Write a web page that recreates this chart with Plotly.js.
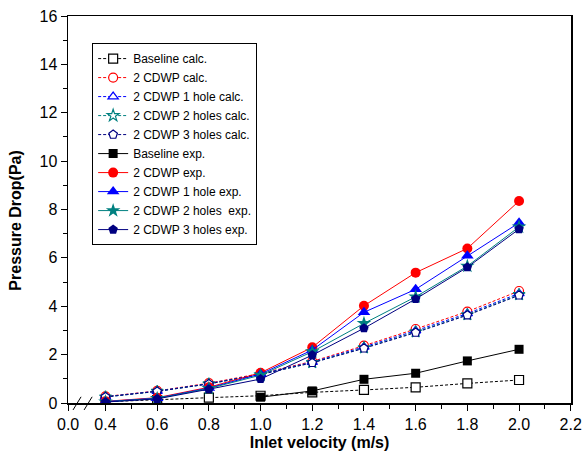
<!DOCTYPE html>
<html>
<head>
<meta charset="utf-8">
<script src="https://cdn.plot.ly/plotly-3.0.1.min.js"></script>
<style>html,body{margin:0;padding:0;background:#fff}#chart{width:586px;height:459px}</style>
</head>
<body>
<div id="chart"></div>
<script>
// Data
const velocity = [0.4, 0.6, 0.8, 1.0, 1.2, 1.4, 1.6, 1.8, 2.0];
const velocityExpBaseline = [1.0, 1.2, 1.4, 1.6, 1.8, 2.0];

const baselineCalc   = [0.05, 0.12, 0.22, 0.30, 0.44, 0.54, 0.65, 0.81, 0.95];
const cdwpCalc       = [0.27, 0.50, 0.82, 1.22, 1.72, 2.37, 3.06, 3.78, 4.63];
const hole1Calc      = [0.26, 0.49, 0.80, 1.20, 1.69, 2.32, 2.99, 3.70, 4.53];
const holes2Calc     = [0.25, 0.48, 0.79, 1.18, 1.67, 2.28, 2.94, 3.65, 4.48];
const holes3Calc     = [0.25, 0.48, 0.79, 1.18, 1.66, 2.26, 2.91, 3.63, 4.45];

const baselineExp    = [0.24, 0.50, 0.98, 1.23, 1.74, 2.22];
const cdwpExp        = [0.07, 0.22, 0.65, 1.25, 2.30, 4.02, 5.39, 6.39, 8.35];
const hole1Exp       = [0.06, 0.20, 0.62, 1.20, 2.19, 3.75, 4.70, 6.09, 7.45];
const holes2Exp      = [0.05, 0.19, 0.60, 1.15, 2.12, 3.29, 4.39, 5.66, 7.28];
const holes3Exp      = [0.04, 0.17, 0.57, 0.99, 1.98, 3.09, 4.30, 5.61, 7.19];

const xTickVals = [0.2555, 0.4, 0.6, 0.8, 1.0, 1.2, 1.4, 1.6, 1.8, 2.0, 2.2];
const xTickText = ['0.0', '0.4', '0.6', '0.8', '1.0', '1.2', '1.4', '1.6', '1.8', '2.0', '2.2'];
const xMinorVals = [0.5, 0.7, 0.9, 1.1, 1.3, 1.5, 1.7, 1.9, 2.1];

function calc(name, x, y, color, symbol) {
  return {x: x, y: y, name: name, type: 'scatter', mode: 'lines+markers',
    line: {color: color, width: 1, dash: '3px,2px'},
    marker: {symbol: symbol, size: 9, color: '#ffffff', line: {color: color, width: 1.2}}};
}
function exp(name, x, y, color, symbol, size) {
  return {x: x, y: y, name: name, type: 'scatter', mode: 'lines+markers',
    line: {color: color, width: 1},
    marker: {symbol: symbol, size: size || 9, color: color, line: {color: color, width: 0}}};
}

const traces = [
  calc('Baseline calc.', velocity, baselineCalc, '#000000', 'square'),
  calc('2 CDWP calc.', velocity, cdwpCalc, '#ff0000', 'circle'),
  calc('2 CDWP 1 hole calc.', velocity, hole1Calc, '#0000ff', 'triangle-up'),
  calc('2 CDWP 2 holes calc.', velocity, holes2Calc, '#008080', 'star'),
  calc('2 CDWP 3 holes calc.', velocity, holes3Calc, '#000080', 'pentagon'),
  exp('Baseline exp.', velocityExpBaseline, baselineExp, '#000000', 'square', 9),
  exp('2 CDWP exp.', velocity, cdwpExp, '#ff0000', 'circle', 10),
  exp('2 CDWP 1 hole exp.', velocity, hole1Exp, '#0000ff', 'triangle-up', 11),
  exp('2 CDWP 2 holes  exp.', velocity, holes2Exp, '#008080', 'star', 11),
  exp('2 CDWP 3 holes exp.', velocity, holes3Exp, '#000080', 'pentagon', 10)
];

const font = 'Liberation Sans, Arial, sans-serif';
const layout = {
  width: 586, height: 459,
  margin: {l: 68, r: 15, t: 16, b: 56},
  paper_bgcolor: '#fff', plot_bgcolor: '#fff',
  font: {family: font, color: '#000'},
  showlegend: true,
  legend: {x: 0.048, y: 0.93, xanchor: 'left', yanchor: 'top',
    bordercolor: '#000', borderwidth: 1, bgcolor: '#fff',
    font: {family: font, size: 12, color: '#000'}},
  xaxis: {range: [0.255, 2.201], tickmode: 'array', tickvals: xTickVals, ticktext: xTickText,
    ticks: 'outside', ticklen: 6, tickwidth: 1, tickcolor: '#000',
    showline: true, linecolor: '#000', linewidth: 1.5, mirror: true,
    showgrid: false, zeroline: false,
    tickfont: {family: font, size: 16, color: '#000'},
    minor: {tickmode: 'array', tickvals: xMinorVals, ticks: 'outside', ticklen: 4, tickcolor: '#000', showgrid: false},
    title: {text: '<b>Inlet velocity (m/s)</b>', font: {family: font, size: 16, color: '#000'}, standoff: 5}},
  yaxis: {range: [0, 16], tickmode: 'linear', tick0: 0, dtick: 2,
    ticks: 'outside', ticklen: 6, tickwidth: 1, tickcolor: '#000',
    showline: true, linecolor: '#000', linewidth: 1.5, mirror: true,
    showgrid: false, zeroline: false,
    tickfont: {family: font, size: 16, color: '#000'},
    minor: {dtick: 1, tick0: 0, ticks: 'outside', ticklen: 4, tickcolor: '#000', showgrid: false}},
  annotations: [
    {text: '<b>Pressure Drop(Pa)</b>', xref: 'paper', yref: 'paper', x: -0.1, y: 0.473,
      xanchor: 'center', yanchor: 'middle', textangle: -90, showarrow: false, xshift: -2,
      font: {family: font, size: 16, color: '#000'}}
  ],
  shapes: [
    {type: 'line', xref: 'paper', yref: 'paper', x0: 0.010, y0: -0.018, x1: 0.026, y1: 0.016, line: {color: '#000', width: 1}},
    {type: 'line', xref: 'paper', yref: 'paper', x0: 0.032, y0: -0.018, x1: 0.048, y1: 0.016, line: {color: '#000', width: 1}}
  ]
};

Plotly.newPlot('chart', traces, layout, {displayModeBar: false, staticPlot: true});
</script>
</body>
</html>
